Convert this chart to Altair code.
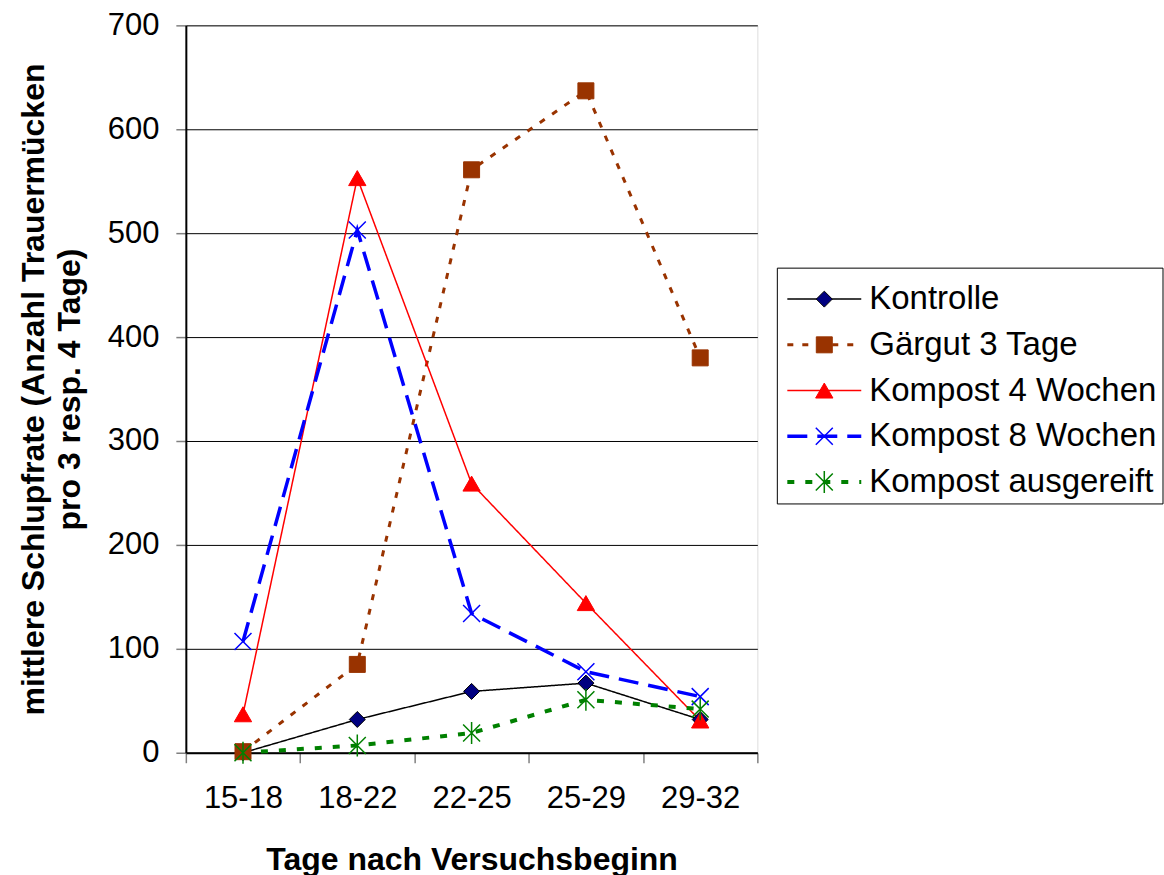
import altair as alt
import pandas as pd

categories = ["15-18", "18-22", "22-25", "25-29", "29-32"]
series_names = ["Kontrolle", "Gärgut 3 Tage", "Kompost 4 Wochen", "Kompost 8 Wochen", "Kompost ausgereift"]
kontrolle = [0, 32, 59, 67, 32]
gaergut = [1, 85, 561, 637, 380]
kompost4 = [37, 553, 259, 144, 31]
kompost8 = [107, 503, 134, 78, 54]
ausgereift = [0, 7, 19, 51, 42]
y_ticks = [0, 100, 200, 300, 400, 500, 600, 700]

line_colors = ["#000000", "#993300", "#FF0000", "#0000FF", "#008000"]
marker_stroke = ["#000000", "#993300", "#FF0000", "#0000FF", "#008000"]
marker_fill = ["#000080", "#993300", "#FF0000", "transparent", "transparent"]
shapes = ["diamond", "square", "triangle-up",
          "M-1,-1L1,1M-1,1L1,-1",
          "M-1,-1L1,1M-1,1L1,-1M0,-1.3L0,1.3"]
dashes = [[1, 0], [6, 9], [1, 0], [20, 10], [7, 11]]
widths = [1.5, 3, 1.5, 3.5, 4]
sizes = [256, 256, 300, 289, 289]

FONT = "Liberation Sans"

all_values = [kontrolle, gaergut, kompost4, kompost8, ausgereift]
rows = []
for s, vals in zip(series_names, all_values):
    for c, v in zip(categories, vals):
        rows.append({"series": s, "cat": c, "value": v})
df = pd.DataFrame(rows)
leg_df = pd.DataFrame({"series": series_names})

x_enc = alt.X(
    "cat:N", sort=categories,
    scale=alt.Scale(type="band", domain=categories, paddingInner=0, paddingOuter=0),
    bandPosition=0.5,
    title="Tage nach Versuchsbeginn",
    axis=alt.Axis(tickBand="extent", labelAngle=0, labelFontSize=31, labelPadding=21,
                  tickSize=10, tickColor="#808080", tickWidth=1.5,
                  domainColor="#000000", domainWidth=2, grid=False,
                  titleFontSize=32, titleFontWeight="bold", titlePadding=31,
                  labelColor="black", titleColor="black", labelFont=FONT, titleFont=FONT),
)
y_enc = alt.Y(
    "value:Q",
    scale=alt.Scale(domain=[0, 700], nice=False),
    title=["mittlere Schlupfrate (Anzahl Trauermücken", "pro 3 resp. 4 Tage)"],
    axis=alt.Axis(values=y_ticks, labelFontSize=31, labelPadding=17, tickSize=10,
                  tickColor="#808080", tickWidth=1.5, domainColor="#000000", domainWidth=2,
                  grid=True, gridColor="#000000", gridWidth=1, gridOpacity=1,
                  titleFontSize=32, titleFontWeight="bold", titlePadding=21, titleLineHeight=36,
                  labelColor="black", titleColor="black", labelFont=FONT, titleFont=FONT),
)

base = alt.Chart(df)
line_layers = []
point_layers = []
for i, s in enumerate(series_names):
    sub = base.transform_filter(alt.datum.series == s)
    line_layers.append(
        sub.mark_line(stroke=line_colors[i], strokeDash=dashes[i], strokeWidth=widths[i]).encode(x=x_enc, y=y_enc)
    )
    point_layers.append(
        sub.mark_point(shape=shapes[i], fill=marker_fill[i], stroke=marker_stroke[i],
                       strokeWidth=1.5 if i >= 3 else 1, size=sizes[i], opacity=1, filled=False
                       ).encode(x=x_enc, y=y_enc)
    )
main = alt.layer(*line_layers, *point_layers)

leg_y = alt.Y("series:N", sort=series_names,
              scale=alt.Scale(type="point", domain=series_names, range=[274, 457], padding=0),
              axis=None)
leg_box = alt.Chart(pd.DataFrame({"a": [0]})).mark_rect(
    fill="white", stroke="#000000", strokeWidth=1
).encode(x=alt.value(592), x2=alt.value(978), y=alt.value(243), y2=alt.value(479))
leg_base = alt.Chart(leg_df)
leg_layers = [leg_box]
for i, s in enumerate(series_names):
    sub = leg_base.transform_filter(alt.datum.series == s)
    leg_layers.append(
        sub.mark_rule(stroke=line_colors[i], strokeDash=dashes[i], strokeWidth=widths[i]).encode(
            x=alt.value(602), x2=alt.value(676), y=leg_y)
    )
for i, s in enumerate(series_names):
    sub = leg_base.transform_filter(alt.datum.series == s)
    leg_layers.append(
        sub.mark_point(shape=shapes[i], fill=marker_fill[i], stroke=marker_stroke[i],
                       strokeWidth=1.5 if i >= 3 else 1, size=sizes[i], opacity=1, filled=False
                       ).encode(x=alt.value(639), y=leg_y)
    )
leg_layers.append(
    leg_base.mark_text(align="left", baseline="middle", fontSize=33, font=FONT, color="black").encode(
        x=alt.value(684), y=leg_y, text="series:N")
)
legend = alt.layer(*leg_layers)

chart = alt.layer(main, legend).resolve_scale(y="independent").properties(
    width=572, height=728,
    padding={"left": 17, "top": 9, "right": 0, "bottom": 5},
    background="white",
).configure_view(stroke="#808080", strokeWidth=2).configure(font=FONT)

chart.save("out.html", embed_options={"renderer": "svg", "actions": False})
